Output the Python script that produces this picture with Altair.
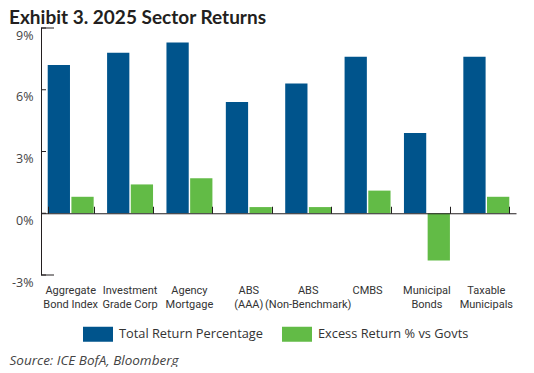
import altair as alt
import pandas as pd

# ---- data ----
categories = [
    "Aggregate|Bond Index",
    "Investment|Grade Corp",
    "Agency|Mortgage",
    "ABS|(AAA)",
    "ABS|(Non-Benchmark)",
    "CMBS",
    "Municipal|Bonds",
    "Taxable|Municipals",
]
series = ["Total Return Percentage", "Excess Return % vs Govts"]
total_return = [7.2, 7.8, 8.3, 5.4, 6.3, 7.6, 3.9, 7.6]
excess_return = [0.8, 1.4, 1.7, 0.3, 0.3, 1.1, -2.3, 0.8]
y_ticks = [-3, 0, 3, 6, 9]
y_end_ticks = [-3, 9]
y_min, y_max = -3, 9

title_text = "Exhibit 3. 2025 Sector Returns"
source_text = "Source: ICE BofA, Bloomberg"

rows = []
for c, t, e in zip(categories, total_return, excess_return):
    rows.append({"category": c, "series": series[0], "value": t})
    rows.append({"category": c, "series": series[1], "value": e})
df = pd.DataFrame(rows)
ticks_df = pd.DataFrame({"tick": y_ticks})
end_ticks_df = pd.DataFrame({"tick": y_end_ticks})

BLUE = "#00548C"
GREEN = "#62BB46"
DARK = "#231F20"
GRAY = "#444444"

W, H = 475, 247
ZERO_FROM_TOP = H * y_max / (y_max - y_min)

x_scale = alt.Scale(paddingInner=0.226, paddingOuter=0.113)
y_scale = alt.Scale(domain=[y_min, y_max], nice=False, zero=False)

# bars + category labels + % labels
bars = alt.Chart(df).mark_bar().encode(
    x=alt.X(
        "category:N", sort=categories, scale=x_scale,
        axis=alt.Axis(
            orient="bottom", domain=False, ticks=False, labelAngle=0,
            labelExpr="split(datum.label, '|')", labelFont="Roboto",
            labelFontSize=11, labelColor="#333333", labelPadding=9,
            labelBaseline="top", labelLineHeight=14,
            title=source_text, titleAnchor="start", titleAlign="left",
            titleBaseline="middle", titleX=-32, titleY=85,
            titleFont="Open Sans", titleFontSize=13.5, titleFontStyle="italic",
            titleFontWeight="normal", titleColor=GRAY,
        ),
    ),
    xOffset=alt.XOffset("series:N", sort=series, scale=alt.Scale(paddingInner=0.06)),
    y=alt.Y(
        "value:Q", scale=y_scale, stack=None,
        axis=alt.Axis(
            orient="left", values=y_ticks, labelExpr="datum.value + '%'",
            domain=False, ticks=False, grid=False,
            labelBaseline="top", labelOffset=1, labelPadding=8, labelFont="Open Sans",
            labelFontSize=12.5, labelColor=GRAY, title=None,
        ),
    ),
    color=alt.Color(
        "series:N", sort=series,
        scale=alt.Scale(domain=series, range=[BLUE, GREEN]),
        legend=alt.Legend(
            orient="none", legendX=42, legendY=291, direction="horizontal", title=None,
            symbolType="M-1,-0.5H1V0.5H-1Z", symbolSize=900, symbolStrokeWidth=0,
            symbolOpacity=1, labelFont="Open Sans", labelFontSize=12.8,
            labelColor="#333333", labelOffset=6, columnPadding=19,
        ),
    ),
)

# zero line with upward ticks between categories (axis placed at y = 0)
zero_axis = alt.Chart(df).mark_bar(opacity=0).encode(
    x=alt.X(
        "category:N", sort=categories, scale=x_scale,
        axis=alt.Axis(
            orient="top", offset=-ZERO_FROM_TOP, labels=False, domain=True,
            domainColor=DARK, domainWidth=1, ticks=True, tickBand="extent",
            tickSize=7, tickColor=DARK, title=None, zindex=1,
        ),
    ),
    y=alt.Y("value:Q", scale=y_scale, stack=None, axis=None),
)

# y axis line and inward ticks
y_line = alt.Chart(df).mark_rule(color=DARK, strokeWidth=1).encode(
    y=alt.YDatum(y_min, scale=y_scale, axis=None),
    y2=alt.Y2Datum(y_max),
    x=alt.value(0.5),
)
y_tick_marks = alt.Chart(ticks_df).mark_rule(color=DARK, strokeWidth=1).encode(
    y=alt.Y("tick:Q", scale=y_scale, axis=None), x=alt.value(0), x2=alt.value(5)
)
y_end_marks = alt.Chart(end_ticks_df).mark_rule(color=DARK, strokeWidth=1).encode(
    y=alt.Y("tick:Q", scale=y_scale, axis=None), x=alt.value(0), x2=alt.value(13)
)

chart = alt.layer(bars, zero_axis, y_line, y_tick_marks, y_end_marks).resolve_axis(
    x="independent", y="independent"
).properties(
    width=W, height=H,
    title=alt.TitleParams(
        title_text, anchor="start", frame="bounds", font="Lato", fontSize=19,
        fontWeight="bold", color=DARK, offset=-2, dy=-2,
    ),
    padding={"left": 1, "top": 0, "right": 5, "bottom": 0},
).configure_view(stroke=None)

chart.save("out.html", embed_options={"renderer": "svg", "actions": False})
